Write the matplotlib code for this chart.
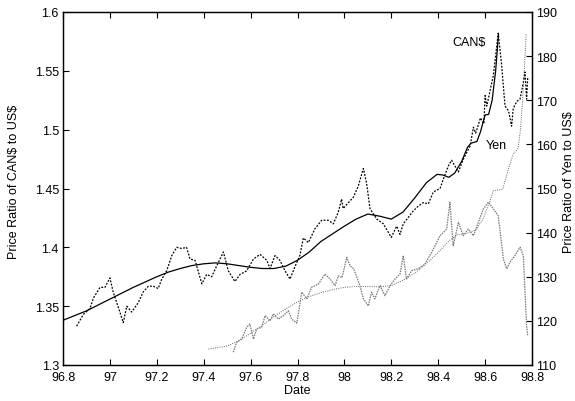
'''
    Exchange rates of CAN$ and Yen against US$, raw and smoothed
'''
from matplotlib import pyplot as plt
from matplotlib.ticker import FuncFormatter
import numpy as np

plt.rcParams['font.family'] = ['Liberation Sans', 'DejaVu Sans']
plt.rcParams['font.size'] = 9

# CAN$ smoothed (left axis)
can_fit_date = [96.80, 96.85, 96.90, 96.95, 97.00, 97.05, 97.10, 97.15, 97.20,
                97.25, 97.30, 97.35, 97.40, 97.45, 97.50, 97.55, 97.60, 97.65,
                97.70, 97.75, 97.80, 97.85, 97.90, 97.95, 98.00, 98.05, 98.10,
                98.15, 98.20, 98.25, 98.30, 98.35, 98.395, 98.42, 98.445,
                98.47, 98.50, 98.525, 98.54, 98.565, 98.58, 98.60, 98.615,
                98.63, 98.645, 98.657]
can_fit_val = [1.338, 1.342, 1.346, 1.351, 1.356, 1.361, 1.366, 1.3705, 1.375,
               1.379, 1.382, 1.3845, 1.386, 1.3868, 1.386, 1.3845, 1.383, 1.382,
               1.382, 1.384, 1.389, 1.396, 1.405, 1.4115, 1.418, 1.424, 1.4283,
               1.4265, 1.424, 1.430, 1.442, 1.455, 1.462, 1.4615, 1.4595,
               1.463, 1.473, 1.485, 1.4885, 1.490, 1.498, 1.5125, 1.513,
               1.525, 1.550, 1.581]

# CAN$ raw (left axis)
can_date = [96.858, 96.887, 96.915, 96.930, 96.958, 96.979, 97.000, 97.014,
            97.036, 97.057, 97.072, 97.093, 97.121, 97.142, 97.164, 97.185,
            97.206, 97.221, 97.242, 97.264, 97.285, 97.306, 97.327, 97.342,
            97.363, 97.392, 97.413, 97.434, 97.455, 97.484, 97.505, 97.533,
            97.555, 97.583, 97.612, 97.640, 97.669, 97.683, 97.704, 97.725,
            97.747, 97.768, 97.790, 97.810, 97.825, 97.846, 97.875, 97.903,
            97.931, 97.953, 97.974, 97.988, 97.995, 98.017, 98.038, 98.059,
            98.081, 98.095, 98.109, 98.138, 98.166, 98.200, 98.223, 98.237,
            98.251, 98.294, 98.315, 98.336, 98.358, 98.379, 98.408, 98.422,
            98.443, 98.457, 98.472, 98.486, 98.507, 98.536, 98.550, 98.560,
            98.580, 98.595, 98.600, 98.607, 98.635, 98.656, 98.670, 98.685,
            98.700, 98.713, 98.720, 98.735, 98.749, 98.763, 98.770, 98.777,
            98.782]
can_val = [1.333, 1.343, 1.348, 1.357, 1.366, 1.366, 1.374, 1.362,
           1.349, 1.336, 1.350, 1.345, 1.353, 1.362, 1.367, 1.367,
           1.365, 1.373, 1.380, 1.393, 1.400, 1.399, 1.400, 1.390,
           1.389, 1.369, 1.377, 1.375, 1.384, 1.396, 1.380, 1.371,
           1.377, 1.380, 1.390, 1.394, 1.389, 1.382, 1.393, 1.389,
           1.380, 1.373, 1.384, 1.393, 1.408, 1.404, 1.416, 1.423,
           1.423, 1.420, 1.430, 1.441, 1.433, 1.438, 1.4425, 1.452,
           1.467, 1.454, 1.433, 1.424, 1.420, 1.4085, 1.418, 1.411,
           1.420, 1.431, 1.435, 1.438, 1.437, 1.447, 1.450, 1.458,
           1.469, 1.474, 1.469, 1.464, 1.475, 1.486, 1.502, 1.497,
           1.510, 1.505, 1.529, 1.520, 1.546, 1.582, 1.556, 1.520,
           1.516, 1.503, 1.518, 1.524, 1.526, 1.540, 1.549, 1.526,
           1.545]

# Yen smoothed (right axis)
yen_fit_date = [97.42, 97.50, 97.55, 97.60, 97.65, 97.70, 97.75, 97.80, 97.85,
                97.90, 97.95, 98.00, 98.05, 98.10, 98.15, 98.20, 98.25, 98.30,
                98.35, 98.40, 98.45, 98.48, 98.52, 98.56, 98.59, 98.62, 98.635,
                98.675, 98.70, 98.72, 98.74, 98.75, 98.76, 98.775]
yen_fit_val = [113.6, 114.3, 115.5, 117.2, 119.0, 121.0, 122.7, 124.3, 125.5,
               126.4, 127.1, 127.6, 127.8, 127.8, 127.7, 128.0, 129.2, 130.8,
               133.0, 135.5, 138.3, 139.5, 139.8, 140.6, 143.0, 147.0, 149.5,
               149.8, 154.5, 157.8, 159.0, 163.0, 170.0, 185.0]

# Yen raw (right axis)
yen_date = [97.526, 97.540, 97.562, 97.583, 97.597, 97.612, 97.626, 97.647,
            97.662, 97.683, 97.697, 97.718, 97.740, 97.761, 97.775, 97.797,
            97.818, 97.840, 97.860, 97.890, 97.917, 97.939, 97.960, 97.974,
            97.990, 98.010, 98.024, 98.040, 98.066, 98.081, 98.102, 98.116,
            98.130, 98.152, 98.173, 98.195, 98.216, 98.237, 98.251, 98.265,
            98.287, 98.315, 98.343, 98.372, 98.408, 98.436, 98.450, 98.464,
            98.486, 98.507, 98.528, 98.550, 98.571, 98.593, 98.614, 98.635,
            98.656, 98.678, 98.692, 98.706, 98.727, 98.749, 98.763, 98.777,
            98.782]
yen_val = [112.9, 115.1, 115.9, 118.5, 119.3, 115.9, 118.2, 118.5,
           121.2, 120.0, 121.6, 120.4, 121.2, 122.3, 120.4, 119.5,
           126.5, 125.0, 127.6, 128.4, 130.6, 129.5, 128.0, 130.2,
           129.8, 134.4, 132.5, 131.8, 128.0, 125.0, 123.4, 126.5,
           125.0, 128.0, 125.7, 128.0, 129.5, 130.6, 134.8, 129.5,
           131.4, 131.8, 132.9, 135.5, 139.3, 140.8, 146.9, 137.0,
           142.3, 139.3, 140.8, 139.3, 142.3, 145.4, 146.9, 145.4,
           143.8, 134.0, 131.8, 133.3, 134.8, 136.7, 134.8, 118.9,
           116.6]

x_ticks = [96.8, 97.0, 97.2, 97.4, 97.6, 97.8, 98.0, 98.2, 98.4, 98.6, 98.8]
can_ticks = [1.3, 1.35, 1.4, 1.45, 1.5, 1.55, 1.6]
yen_ticks = [110, 120, 130, 140, 150, 160, 170, 180, 190]


def main():
    fig = plt.figure(figsize=(5.75, 4.02), dpi=100)
    ax = fig.add_axes([63/575, 1 - 366/402, 469/575, 353/402])
    ax2 = ax.twinx()

    ax.plot(can_fit_date, can_fit_val, c='k', lw=0.9, ls='-')
    ax.plot(can_date, can_val, c='k', lw=0.9, ls=(0, (1.5, 1.2)))
    ax2.plot(yen_fit_date, yen_fit_val, c='#666666', lw=0.7, ls=(0, (1, 1.3)))
    ax2.plot(yen_date, yen_val, c='#777777', lw=0.9, ls=(0, (1.2, 0.8)))

    ax.text(98.53, 1.5745, 'CAN$', ha='center', va='center', parse_math=False)
    ax.text(98.646, 1.487, 'Yen', ha='center', va='center')

    fmt = FuncFormatter(lambda v, p: '%g' % round(v, 3))
    ax.set_xlim(96.8, 98.8)
    ax.set_ylim(1.3, 1.6)
    ax2.set_ylim(110, 190)
    ax.set_xticks(x_ticks)
    ax.set_yticks(can_ticks)
    ax2.set_yticks(yen_ticks)
    ax.xaxis.set_major_formatter(fmt)
    ax.yaxis.set_major_formatter(fmt)
    ax2.yaxis.set_major_formatter(fmt)

    ax.tick_params(direction='in', top=True, right=False, length=4.5,
                   width=0.8, labelsize=9, pad=3)
    ax.tick_params(axis='x', pad=4.2)
    ax2.tick_params(direction='in', length=4.5, width=0.8, labelsize=9, pad=3)
    for a in (ax, ax2):
        for s in a.spines.values():
            s.set_linewidth(0.9)

    ax.set_xlabel('Date', labelpad=1)
    ax.set_ylabel(r'Price Ratio of CAN\$ to US\$')
    ax2.set_ylabel(r'Price Ratio of Yen to US\$')
    ax.yaxis.set_label_coords(-0.092, 0.521)
    ax2.yaxis.set_label_coords(1.066, 0.521)

    fig.savefig('out.png', dpi=100)
    plt.close(fig)


if __name__ == '__main__': main()
